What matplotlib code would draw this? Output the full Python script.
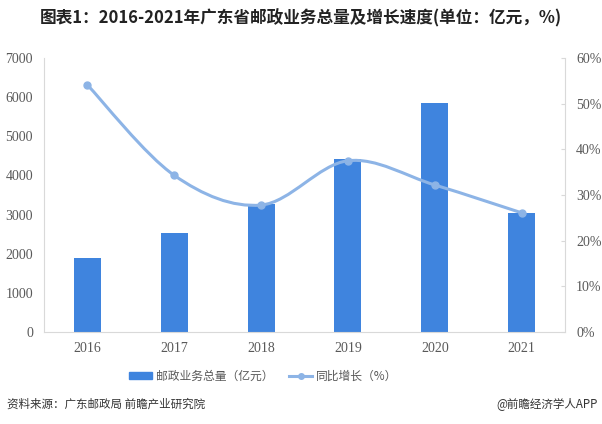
import numpy as np
import matplotlib.pyplot as plt
from matplotlib.path import Path
from matplotlib.patches import PathPatch
from matplotlib.lines import Line2D
from matplotlib.patches import Patch
from matplotlib.ticker import PercentFormatter

plt.rcParams['font.family'] = ['Noto Sans CJK SC', 'DejaVu Sans']

# 数据
years = ['2016', '2017', '2018', '2019', '2020', '2021']
volume = [1890, 2520, 3270, 4420, 5850, 3040]       # 邮政业务总量（亿元）
growth = [54.1, 34.3, 27.8, 37.5, 32.2, 26.1]       # 同比增长（%）

bar_color = '#3f84de'
line_color = '#8db4e6'
tick_color = '#595959'
spine_color = '#d9d9d9'

fig = plt.figure(figsize=(6.02, 4.24), dpi=100)
ax = fig.add_axes([44 / 602, 92 / 424, 521 / 602, 274 / 424])
ax2 = ax.twinx()

x = np.arange(len(years))
ax.bar(x, volume, width=0.31, color=bar_color, zorder=2)
ax.set_xlim(-0.5, len(years) - 0.5)
ax.set_ylim(0, 7000)
ax.set_yticks(range(0, 7001, 1000))
ax.set_xticks(x)
ax.set_xticklabels(years)

ax2.set_ylim(0, 60)
ax2.set_yticks(range(0, 61, 10))
ax2.yaxis.set_major_formatter(PercentFormatter(decimals=0))

# 平滑曲线（类似 Excel 的平滑线），用贝塞尔控制点
pts = np.column_stack([x, growth]).astype(float)
verts = [tuple(pts[0])]
codes = [Path.MOVETO]
t = 1 / 6
for i in range(len(pts) - 1):
    p0 = pts[i - 1] if i > 0 else pts[i]
    p1 = pts[i]
    p2 = pts[i + 1]
    p3 = pts[i + 2] if i + 2 < len(pts) else pts[i + 1]
    c1 = p1 + (p2 - p0) * t
    c2 = p2 - (p3 - p1) * t
    verts += [tuple(c1), tuple(c2), tuple(p2)]
    codes += [Path.CURVE4] * 3
ax2.add_patch(PathPatch(Path(verts, codes), fill=False, edgecolor=line_color,
                        lw=2.2, zorder=3, capstyle='round'))
ax2.plot(x, growth, ls='none', marker='o', ms=5, color=line_color, zorder=4)

serif = ['Liberation Serif', 'DejaVu Serif']
for a in (ax, ax2):
    for s in a.spines.values():
        s.set_visible(False)
    a.tick_params(colors=tick_color, labelsize=10)
    for lab in a.get_yticklabels() + a.get_xticklabels():
        lab.set_family(serif)
ax.spines['left'].set_visible(True)
ax.spines['left'].set_color(spine_color)
ax.spines['bottom'].set_visible(True)
ax.spines['bottom'].set_color(spine_color)
ax2.spines['right'].set_visible(True)
ax2.spines['right'].set_color(spine_color)
ax.tick_params(axis='y', length=0, pad=8)
ax.tick_params(axis='x', length=0, pad=7)
ax2.tick_params(axis='y', length=3, direction='in', color=spine_color, pad=8)

fig.text(0.5, 1 - 18 / 424, '图表1：2016-2021年广东省邮政业务总量及增长速度(单位：亿元，%)',
         ha='center', va='center', fontsize=12, fontweight='bold', color='#222222')

handles = [Patch(color=bar_color), Line2D([], [], color=line_color, lw=2.2, marker='o', ms=4)]
fig.legend(handles, ['邮政业务总量（亿元）', '同比增长（%）'], loc='center',
           bbox_to_anchor=(263 / 602, 1 - 376 / 424), ncol=2, frameon=False,
           fontsize=8.5, handlelength=2.0, handleheight=0.5, columnspacing=1.3,
           handletextpad=0.3, labelcolor=tick_color)

fig.text(7 / 602, 1 - 404 / 424, '资料来源：广东邮政局 前瞻产业研究院',
         ha='left', va='center', fontsize=8.3, color='#333333')
fig.text(598 / 602, 1 - 404 / 424, '@前瞻经济学人APP',
         ha='right', va='center', fontsize=8.3, color='#333333')

fig.savefig('out.png', dpi=100)
